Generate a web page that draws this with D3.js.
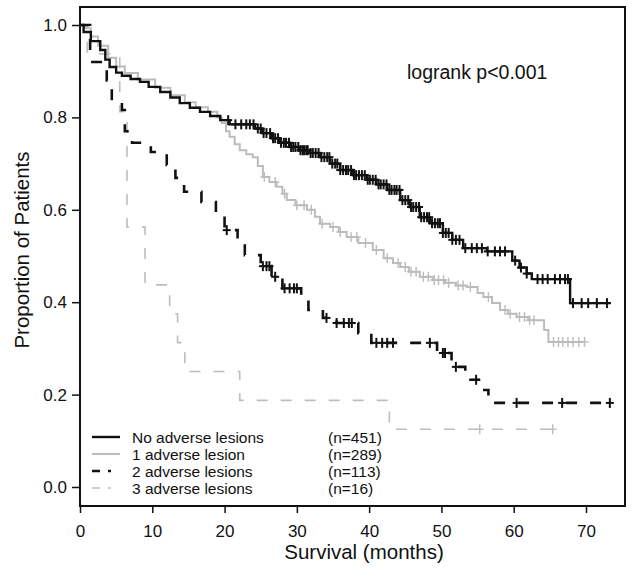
<!DOCTYPE html>
<html>
<head>
<meta charset="utf-8">
<script src="https://cdn.jsdelivr.net/npm/d3@7"></script>
<style>
  body { margin: 0; background: #fff; }
  text { font-family: "Liberation Sans", Arial, sans-serif; fill: #111; }
</style>
</head>
<body>
<div class="km"></div>
<script>
const monthTicks = [0, 10, 20, 30, 40, 50, 60, 70]
const propTicks = [0, 0.2, 0.4, 0.6, 0.8, 1.0]
const groupNames = ['No adverse lesions', '1 adverse lesion', '2 adverse lesions', '3 adverse lesions']
const groupCounts = ['(n=451)', '(n=289)', '(n=113)', '(n=16)']

// [months, survival] after each step, last row = end of follow-up
const noneSteps = [
  [0, 1.0], [0.5, 0.985], [1.5, 0.965], [2.8, 0.946], [3.5, 0.925], [4.1, 0.909], [5.0, 0.897],
  [5.8, 0.89], [7.0, 0.883], [8.3, 0.877], [9.5, 0.866], [11.1, 0.855], [12.5, 0.843], [13.8, 0.831],
  [15.2, 0.821], [16.6, 0.812], [18.0, 0.803], [19.4, 0.794], [20.7, 0.785], [24.2, 0.776],
  [25.2, 0.766], [26.5, 0.755], [27.5, 0.745], [29.0, 0.736], [30.4, 0.729], [31.8, 0.723],
  [33.2, 0.714], [34.6, 0.70], [36.0, 0.686], [37.8, 0.675], [39.7, 0.665], [41.0, 0.655],
  [42.5, 0.643], [44.3, 0.621], [45.6, 0.606], [47.0, 0.584], [48.4, 0.571], [50.2, 0.55],
  [51.5, 0.535], [53.0, 0.517], [56.3, 0.51], [59.8, 0.49], [60.8, 0.475], [61.8, 0.462],
  [62.5, 0.45], [67.8, 0.398], [73.3, 0.398]
]
const oneSteps = [
  [0, 1.0], [0.7, 0.993], [1.5, 0.975], [2.5, 0.955], [3.9, 0.929], [5.0, 0.91], [6.2, 0.896],
  [8.0, 0.882], [10.4, 0.864], [12.5, 0.848], [14.5, 0.833], [16.0, 0.822], [17.7, 0.812],
  [19.0, 0.80], [19.6, 0.788], [20.2, 0.77], [20.7, 0.758], [21.4, 0.742], [22.1, 0.729],
  [23.0, 0.72], [23.9, 0.714], [24.6, 0.695], [25.3, 0.671], [26.2, 0.66], [27.2, 0.65],
  [28.0, 0.635], [28.6, 0.621], [29.8, 0.61], [31.4, 0.60], [32.5, 0.585], [33.2, 0.570],
  [34.6, 0.563], [35.8, 0.552], [36.9, 0.541], [38.5, 0.528], [40.5, 0.513], [42.0, 0.495],
  [43.3, 0.485], [44.3, 0.476], [45.5, 0.466], [47.0, 0.455], [48.8, 0.448], [50.5, 0.442],
  [52.0, 0.436], [53.5, 0.433], [55.0, 0.42], [55.8, 0.411], [57.0, 0.398], [58.1, 0.383],
  [59.2, 0.375], [60.4, 0.368], [62.0, 0.361], [64.2, 0.34], [64.8, 0.314], [69.8, 0.314]
]
const twoSteps = [
  [0, 1.0], [1.4, 0.92], [3.7, 0.88], [4.4, 0.84], [5.8, 0.816], [6.2, 0.77], [7.2, 0.745],
  [9.8, 0.725], [12.0, 0.697], [13.2, 0.669], [14.4, 0.639], [16.8, 0.617], [18.8, 0.593],
  [20.0, 0.556], [21.8, 0.53], [22.8, 0.502], [25.0, 0.478], [26.5, 0.455], [28.0, 0.43],
  [30.6, 0.405], [31.6, 0.383], [33.6, 0.366], [35.5, 0.355], [38.5, 0.333], [40.3, 0.312],
  [49.4, 0.29], [51.4, 0.26], [53.3, 0.232], [55.6, 0.21], [56.5, 0.182], [73.3, 0.182]
]
const threeSteps = [
  [0, 1.0], [1.0, 0.9375], [5.5, 0.8125], [6.5, 0.5625], [9.0, 0.4375], [12.4, 0.375],
  [13.5, 0.3125], [14.5, 0.25], [22.1, 0.1875], [42.8, 0.125], [65.4, 0.125]
]

// censored times
const noneCensor = [
  20.5, 21.5, 22.3, 23, 23.5, 24, 24.6, 25, 25.4, 25.8, 26.3, 26.7, 27, 27.4, 27.8, 28.2, 28.5,
  28.9, 29.2, 29.5, 29.8, 30.2, 30.5, 30.8, 31, 31.3, 31.5, 31.9, 32.2, 32.6, 33, 33.4, 33.8, 34.2,
  34.5, 34.9, 35.3, 35.6, 36, 36.4, 36.8, 37.1, 37.5, 37.9, 38.2, 38.6, 39, 39.4, 39.8, 40.1, 40.5,
  40.9, 41.3, 41.6, 42, 42.4, 42.8, 43.1, 43.5, 43.8, 44.2, 44.6, 45, 45.4, 45.8, 46.1, 46.5, 46.9,
  47.2, 47.6, 48, 48.3, 48.7, 49.1, 49.5, 49.8, 50.2, 50.6, 51, 51.5, 52, 52.5, 53.3, 54.2, 54.9,
  55.6, 56.4, 57.4, 58.1, 58.8, 60.2, 61, 61.8, 63.3, 64, 64.7, 65.7, 66.4, 67.1, 67.5, 68.2, 69.4,
  70.3, 71.5, 72.9
]
const oneCensor = [
  25.5, 27, 28.3, 30, 31, 32, 33.5, 35, 36, 37.5, 38.3, 39.5, 41, 42.5, 44, 45, 45.8, 46.5, 47.5,
  48.2, 49, 49.6, 50.3, 51, 52.3, 53, 54, 56.5, 58.8, 59.5, 60.8, 61.5, 62.2, 62.8, 65.5, 66.2,
  66.8, 67.5, 68.2, 69, 69.8
]
const twoCensor = [
  20.3, 25.3, 25.8, 26.2, 27, 28.3, 29, 29.6, 30, 34.1, 35.5, 36.5, 37.2, 37.6, 41, 41.8, 42.5,
  43.3, 48.4, 50.2, 50.5, 52, 54.8, 60.4, 66.7, 73.3
]
const threeCensor = [55.3, 65.4]

const option = {
  width: 636,
  height: 577,
  boxLeft: 80,
  boxRight: 625,
  boxTop: 7,
  boxBottom: 506,
  tickFont: 17,
  titleFont: 20.5,
  legendFont: 15.5,
}

const series = [
  { steps: noneSteps, censor: noneCensor, color: '#111', width: 2.4, dash: null },
  { steps: oneSteps, censor: oneCensor, color: '#bcbcbc', width: 2, dash: null },
  { steps: twoSteps, censor: twoCensor, color: '#111', width: 2.6, dash: '11,13' },
  { steps: threeSteps, censor: threeCensor, color: '#bdbdbd', width: 1.6, dash: '11,13' },
]

const { width, height, boxLeft, boxRight, boxTop, boxBottom, tickFont, titleFont, legendFont } = option

const x = d3.scaleLinear().domain([0, 70]).range([80, 586])
const y = d3.scaleLinear().domain([0, 1]).range([487, 25])

const svg = d3.select('.km')
  .append('svg')
  .attr('width', width)
  .attr('height', height)

// survival value at time t (value of the last step at or before t)
function survAt (steps, t) {
  let v = steps[0][1]
  steps.forEach(d => { if (d[0] <= t) v = d[1] })
  return v
}

const line = d3.line()
  .curve(d3.curveStepAfter)
  .x(d => x(d[0]))
  .y(d => y(d[1]))

// curves, drawn back to front
const curveG = svg.append('g').attr('fill', 'none')
;[3, 1, 2, 0].forEach(i => {
  const s = series[i]
  curveG.append('path')
    .attr('d', line(s.steps))
    .attr('stroke', s.color)
    .attr('stroke-width', s.width)
    .attr('stroke-dasharray', s.dash)

  const marks = curveG.append('g')
    .selectAll('g')
    .data(s.censor)
    .enter()
    .append('g')
    .attr('transform', t => `translate(${x(t)},${y(survAt(s.steps, t))})`)
  marks.append('line')
    .attr('y1', -5).attr('y2', 5)
    .attr('stroke', s.color)
    .attr('stroke-width', i === 0 || i === 2 ? 2 : 1.4)
  marks.append('line')
    .attr('x1', -4).attr('x2', 4)
    .attr('stroke', s.color)
    .attr('stroke-width', i === 0 || i === 2 ? 2 : 1.4)
})

// box
svg.append('rect')
  .attr('x', boxLeft)
  .attr('y', boxTop)
  .attr('width', boxRight - boxLeft)
  .attr('height', boxBottom - boxTop)
  .attr('fill', 'none')
  .attr('stroke', '#111')
  .attr('stroke-width', 2)

// y axis
const yAxis = svg.append('g')
  .attr('transform', `translate(${boxLeft},0)`)
  .call(d3.axisLeft(y).tickValues(propTicks).tickFormat(d3.format('.1f')).tickSize(8).tickPadding(5))
yAxis.select('.domain').remove()
yAxis.selectAll('line').attr('stroke', '#111').attr('stroke-width', 1.5)
yAxis.selectAll('text').attr('font-size', tickFont).attr('fill', '#111')

// x axis
const xAxis = svg.append('g')
  .attr('transform', `translate(0,${boxBottom})`)
  .call(d3.axisBottom(x).tickValues(monthTicks).tickSize(7).tickPadding(12))
xAxis.select('.domain').remove()
xAxis.selectAll('line').attr('stroke', '#111').attr('stroke-width', 1.5)
xAxis.selectAll('text').attr('font-size', tickFont).attr('fill', '#111')

svg.append('text')
  .attr('x', 364)
  .attr('y', 559)
  .attr('text-anchor', 'middle')
  .attr('font-size', titleFont)
  .text('Survival (months)')

svg.append('text')
  .attr('transform', 'translate(29,250) rotate(-90)')
  .attr('text-anchor', 'middle')
  .attr('font-size', titleFont)
  .text('Proportion of Patients')

svg.append('text')
  .attr('x', 407)
  .attr('y', 79)
  .attr('font-size', 19.5)
  .text('logrank p<0.001')

// legend
const legend = svg.append('g')
const rows = legend.selectAll('g')
  .data(groupNames)
  .enter()
  .append('g')
  .attr('transform', (d, i) => `translate(0,${437 + i * 17})`)
rows.append('line')
  .attr('x1', 92).attr('x2', 120)
  .attr('stroke', (d, i) => series[i].color)
  .attr('stroke-width', (d, i) => series[i].width)
  .attr('stroke-dasharray', (d, i) => series[i].dash ? '8,8,3,20' : null)
rows.append('text')
  .attr('x', 132)
  .attr('y', 5.5)
  .attr('font-size', legendFont)
  .text(d => d)
rows.append('text')
  .attr('x', 328)
  .attr('y', 5.5)
  .attr('font-size', legendFont)
  .text((d, i) => groupCounts[i])
</script>
</body>
</html>
